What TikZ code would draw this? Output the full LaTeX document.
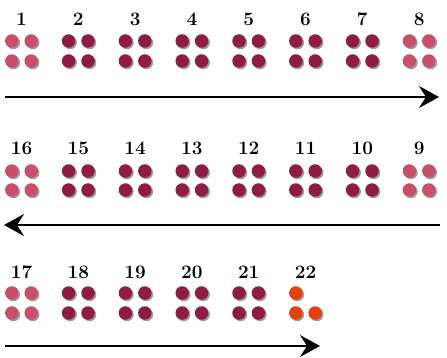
\documentclass[tikz,border=0pt]{standalone}
\usetikzlibrary{arrows.meta,shadows}
\definecolor{lightdot}{HTML}{C8506A}
\definecolor{darkdot}{HTML}{8E1C45}
\definecolor{orangedot}{HTML}{E5400F}
\begin{document}
\begin{tikzpicture}[x=1pt,y=-1pt,
  dot/.style={circle,inner sep=0pt,minimum size=13.5pt,draw=none,
    circular drop shadow={shadow xshift=1.3pt,shadow yshift=-1.3pt,shadow scale=1.05,opacity=0.8}},
  lbl/.style={font=\fontsize{19}{19}\selectfont\bfseries,inner sep=0pt},
  flow/.style={line width=2pt,-{Stealth[length=20pt,width=22pt,inset=7pt]}}]
\useasboundingbox (0,0) rectangle (447,358);
% row 1
\foreach \n/\c/\col in {1/0/lightdot,2/1/darkdot,3/2/darkdot,4/3/darkdot,5/4/darkdot,6/5/darkdot,7/6/darkdot,8/7/lightdot}{
  \pgfmathsetmacro\cx{21.5+\c*56.8}
  \node[lbl] (l\n) at (\cx,19) {\n};
  \node[dot,fill=\col] (d\n-a) at (\cx-9.7,41) {};
  \node[dot,fill=\col] (d\n-b) at (\cx+9.7,41) {};
  \node[dot,fill=\col] (d\n-c) at (\cx-9.7,61) {};
  \node[dot,fill=\col] (d\n-d) at (\cx+9.7,61) {};
}
% row 2
\foreach \n/\c/\col in {16/0/lightdot,15/1/darkdot,14/2/darkdot,13/3/darkdot,12/4/darkdot,11/5/darkdot,10/6/darkdot,9/7/lightdot}{
  \pgfmathsetmacro\cx{21.5+\c*56.8}
  \node[lbl] (l\n) at (\cx,148.5) {\n};
  \node[dot,fill=\col] (d\n-a) at (\cx-9.7,171) {};
  \node[dot,fill=\col] (d\n-b) at (\cx+9.7,171) {};
  \node[dot,fill=\col] (d\n-c) at (\cx-9.7,190) {};
  \node[dot,fill=\col] (d\n-d) at (\cx+9.7,190) {};
}
% row 3
\foreach \n/\c/\col in {17/0/lightdot,18/1/darkdot,19/2/darkdot,20/3/darkdot,21/4/darkdot}{
  \pgfmathsetmacro\cx{21.5+\c*56.8}
  \node[lbl] (l\n) at (\cx,272) {\n};
  \node[dot,fill=\col] (d\n-a) at (\cx-9.7,293) {};
  \node[dot,fill=\col] (d\n-b) at (\cx+9.7,293) {};
  \node[dot,fill=\col] (d\n-c) at (\cx-9.7,313) {};
  \node[dot,fill=\col] (d\n-d) at (\cx+9.7,313) {};
}
\pgfmathsetmacro\cx{21.5+5*56.8}
\node[lbl] (l22) at (\cx,272) {22};
\node[dot,fill=orangedot] (d22-a) at (\cx-9.7,293) {};
\node[dot,fill=orangedot] (d22-c) at (\cx-9.7,313) {};
\node[dot,fill=orangedot] (d22-d) at (\cx+9.7,313) {};
% arrows
\coordinate (a1s) at (5,97);
\coordinate (a1e) at (439,97);
\coordinate (a2s) at (440,225);
\coordinate (a2e) at (4,225);
\coordinate (a3s) at (5,346);
\coordinate (a3e) at (320,346);
\draw[flow] (a1s) -- (a1e);
\draw[flow] (a2s) -- (a2e);
\draw[flow] (a3s) -- (a3e);
\end{tikzpicture}
\end{document}
